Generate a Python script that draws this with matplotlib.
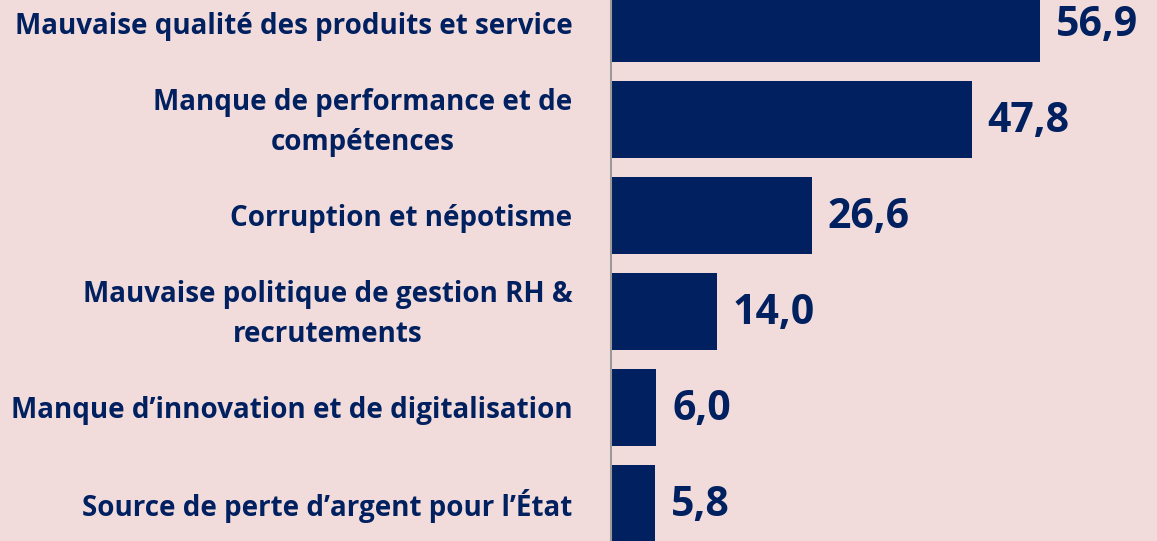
import matplotlib
matplotlib.use("Agg")
import matplotlib.pyplot as plt

# data, top to bottom
categories = [
    "Mauvaise qualité des produits et service",
    "Manque de performance et de\ncompétences",
    "Corruption et népotisme",
    "Mauvaise politique de gestion RH &\nrecrutements",
    "Manque d\u2019innovation et de digitalisation",
    "Source de perte d\u2019argent pour l\u2019État",
]
values = [56.9, 47.8, 26.6, 14.0, 6.0, 5.8]
value_labels = ["56,9", "47,8", "26,6", "14,0", "6,0", "5,8"]

BG = "#F2DCDB"
NAVY = "#002060"

fig = plt.figure(figsize=(11.57, 5.41), dpi=100, facecolor=BG)
ax = fig.add_axes([0, 0, 1, 1], facecolor=BG)

ypos = list(range(len(values)))
ax.barh(ypos, values, height=0.8, color=NAVY, zorder=2)

ax.set_xlim(-80.98, 72.37)
ax.set_ylim(5.394, -0.247)
ax.axvline(0, color="#9A9A9A", lw=1.5, zorder=3)

for y, v, lab in zip(ypos, values, value_labels):
    ax.text(v + 2.1, y + 0.02, lab, va="center", ha="left", color=NAVY,
            fontsize=29.5, fontweight="bold", family="Open Sans")

for y, cat in zip(ypos, categories):
    ax.text(-5.1, y + 0.03, cat, va="center", ha="right", multialignment="center",
            color=NAVY, fontsize=19.95, fontweight="bold", family="Open Sans",
            linespacing=1.5)

for s in ax.spines.values():
    s.set_visible(False)
ax.set_xticks([])
ax.set_yticks([])

fig.savefig("out.png", dpi=100, facecolor=BG)
